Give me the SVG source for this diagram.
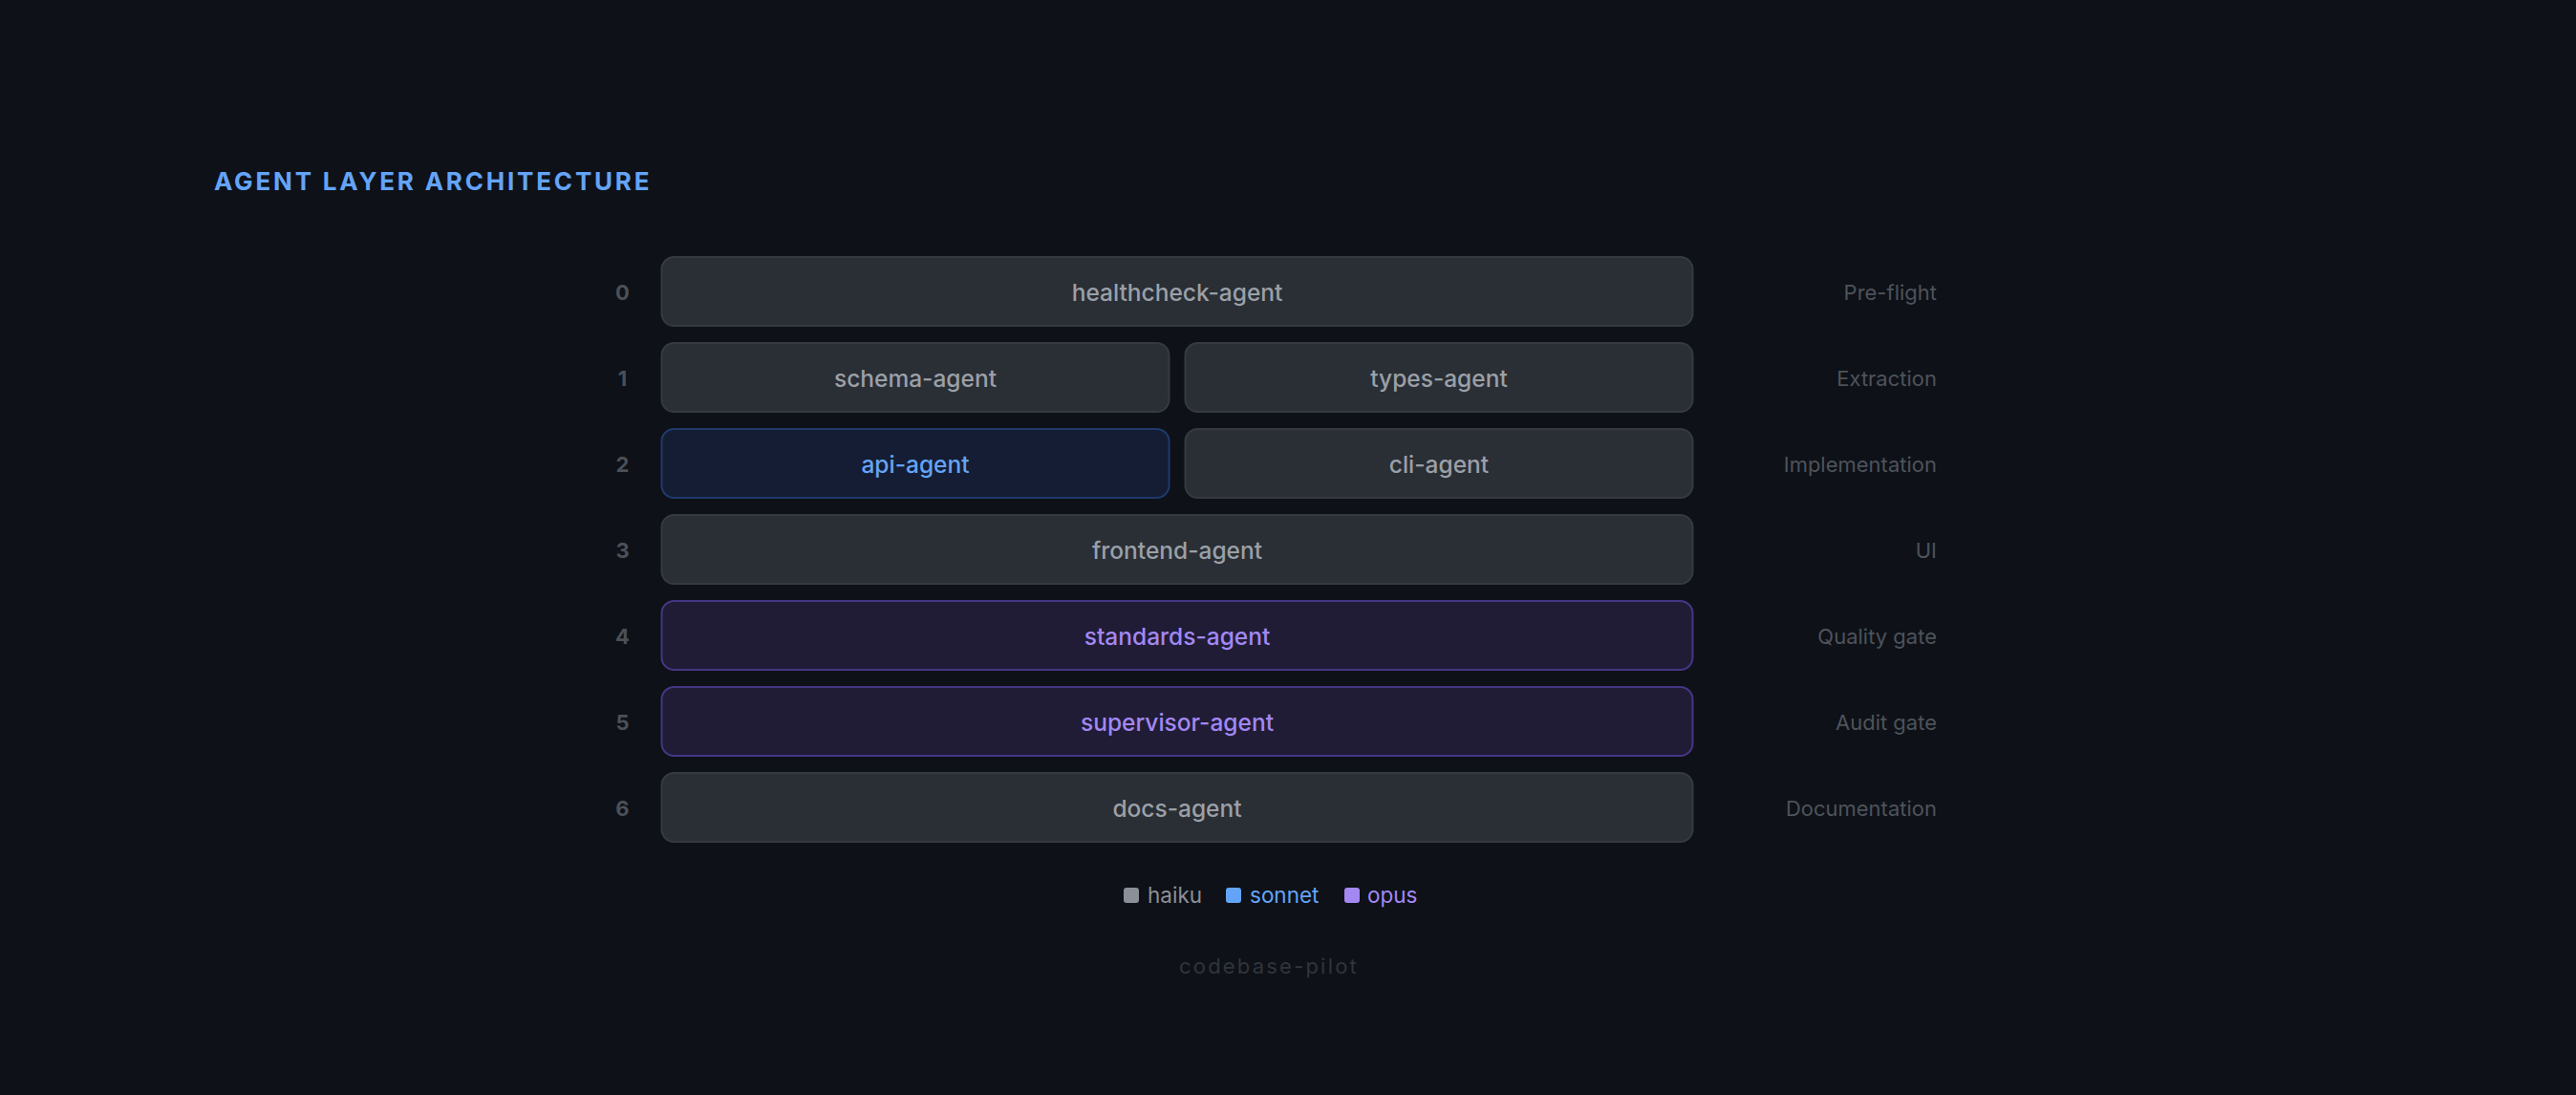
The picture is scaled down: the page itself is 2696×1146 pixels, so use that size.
<svg xmlns="http://www.w3.org/2000/svg" width="2696" height="1146" viewBox="0 0 2696 1146">
<style>
.bg{fill:#0e1117}
.title{font-family:Inter,"Liberation Sans",sans-serif;font-weight:700;font-size:26px;letter-spacing:2.8px;fill:#64a4f8}
.num{font-family:Inter,"Liberation Sans",sans-serif;font-weight:700;font-size:22px;fill:#4b5058;text-anchor:middle}
.lbl{font-family:Inter,"Liberation Sans",sans-serif;font-weight:400;font-size:22px;fill:#4d535b;text-anchor:end}
.box{fill:#2a2e35;stroke:#353a42;stroke-width:2}
.box-s{fill:#141d33;stroke:#203a6c;stroke-width:2}
.box-o{fill:#201c35;stroke:#453685;stroke-width:2}
.t{font-family:Inter,"Liberation Sans",sans-serif;font-weight:500;font-size:24.5px;text-anchor:middle}
.tg{fill:#9aa0a8}
.ts{fill:#64a4f8}
.to{fill:#a388f2}
.leg{font-family:Inter,"Liberation Sans",sans-serif;font-weight:400;font-size:22.5px}
.foot{font-family:Inter,"Liberation Sans",sans-serif;font-weight:400;font-size:22px;letter-spacing:2.2px;fill:#30353c;text-anchor:middle}
</style>
<rect class="bg" x="0" y="0" width="2696" height="1146"/>
<text class="title" x="224" y="199">AGENT LAYER ARCHITECTURE</text>

<g id="layer-numbers">
<text class="num" x="651.5" y="314">0</text>
<text class="num" x="651.5" y="404">1</text>
<text class="num" x="651.5" y="494">2</text>
<text class="num" x="651.5" y="584">3</text>
<text class="num" x="651.5" y="674">4</text>
<text class="num" x="651.5" y="764">5</text>
<text class="num" x="651.5" y="854">6</text>
</g>

<g id="layer-labels">
<text class="lbl" x="2027" y="314">Pre-flight</text>
<text class="lbl" x="2027" y="404">Extraction</text>
<text class="lbl" x="2027" y="494">Implementation</text>
<text class="lbl" x="2027" y="584">UI</text>
<text class="lbl" x="2027" y="674">Quality gate</text>
<text class="lbl" x="2027" y="764">Audit gate</text>
<text class="lbl" x="2027" y="854">Documentation</text>
</g>

<g id="connectors"></g>

<g id="healthcheck-agent">
<rect class="box" x="692.5" y="269" width="1079" height="72" rx="13"/>
<text class="t tg" x="1232" y="314.5">healthcheck-agent</text>
</g>
<g id="schema-agent">
<rect class="box" x="692.5" y="359" width="531" height="72" rx="13"/>
<text class="t tg" x="958" y="404.5">schema-agent</text>
</g>
<g id="types-agent">
<rect class="box" x="1240.5" y="359" width="531" height="72" rx="13"/>
<text class="t tg" x="1506" y="404.5">types-agent</text>
</g>
<g id="api-agent">
<rect class="box-s" x="692.5" y="449" width="531" height="72" rx="13"/>
<text class="t ts" x="958" y="494.5">api-agent</text>
</g>
<g id="cli-agent">
<rect class="box" x="1240.5" y="449" width="531" height="72" rx="13"/>
<text class="t tg" x="1506" y="494.5">cli-agent</text>
</g>
<g id="frontend-agent">
<rect class="box" x="692.5" y="539" width="1079" height="72" rx="13"/>
<text class="t tg" x="1232" y="584.5">frontend-agent</text>
</g>
<g id="standards-agent">
<rect class="box-o" x="692.5" y="629" width="1079" height="72" rx="13"/>
<text class="t to" x="1232" y="674.5">standards-agent</text>
</g>
<g id="supervisor-agent">
<rect class="box-o" x="692.5" y="719" width="1079" height="72" rx="13"/>
<text class="t to" x="1232" y="764.5">supervisor-agent</text>
</g>
<g id="docs-agent">
<rect class="box" x="692.5" y="809" width="1079" height="72" rx="13"/>
<text class="t tg" x="1232" y="854.5">docs-agent</text>
</g>

<g id="legend">
<rect x="1176" y="929" width="16" height="16" rx="3" fill="#8b9098"/>
<text class="leg" x="1201" y="945" fill="#8b9098">haiku</text>
<rect x="1283" y="929" width="16" height="16" rx="3" fill="#64a4f8"/>
<text class="leg" x="1308" y="945" fill="#64a4f8">sonnet</text>
<rect x="1407" y="929" width="16" height="16" rx="3" fill="#a388f2"/>
<text class="leg" x="1431" y="945" fill="#a388f2">opus</text>
</g>

<text class="foot" x="1328" y="1019">codebase-pilot</text>
</svg>
